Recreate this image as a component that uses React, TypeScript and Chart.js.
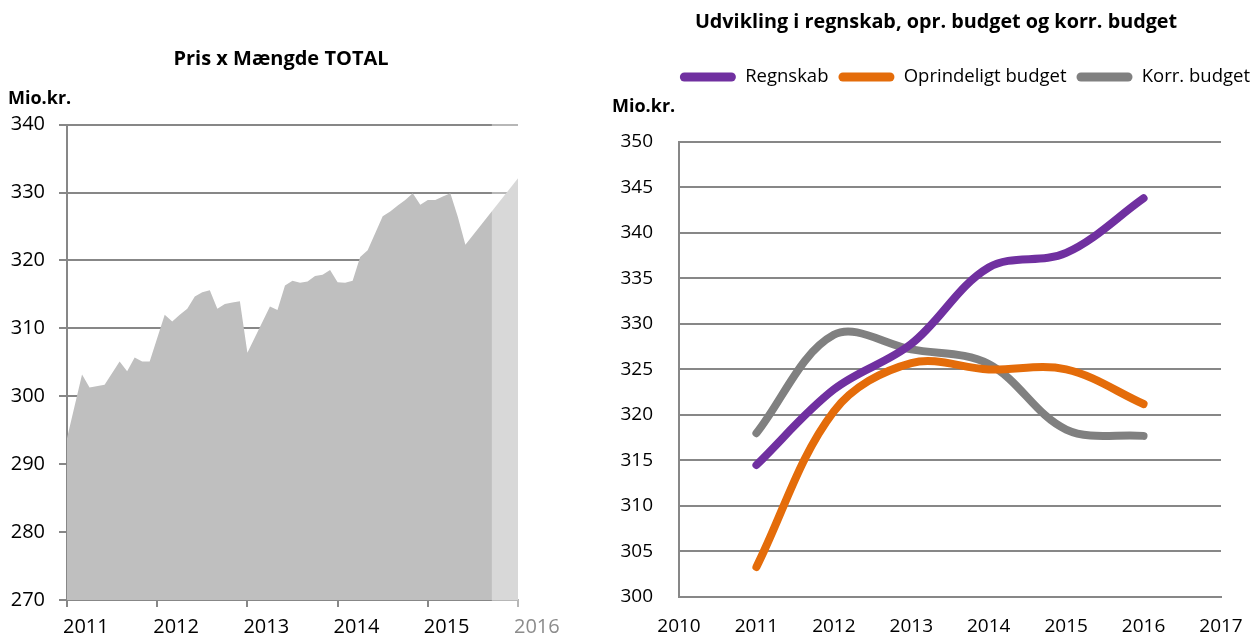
import React, { useEffect, useRef } from 'react';
import { Chart, registerables } from 'chart.js';

Chart.register(...registerables);

const FONT = "'Open Sans', sans-serif";

// ---------- Left chart: Pris x Mængde TOTAL ----------
const leftTitle = 'Pris x Mængde TOTAL';
const unitLabel = 'Mio.kr.';
const leftStartYear = 2011;
const leftYearTicks = [2011, 2012, 2013, 2014, 2015, 2016];
// month offsets from Jan 2011 (vertices of the area outline)
const leftMonths = [0, 2, 3, 5, 7, 8, 9, 10, 11, 13, 14, 15, 16, 17, 18, 19, 20, 21, 22, 23, 24, 27, 28, 29, 30, 31, 32, 33, 34, 35, 36, 37, 38, 39, 40, 42, 43, 44, 45, 46, 47, 48, 49, 50, 51, 52, 53, 60];
const leftValues = [293.8, 303.2, 301.3, 301.7, 305.1, 303.7, 305.7, 305.1, 305.1, 312.0, 311.0, 312.0, 312.9, 314.7, 315.3, 315.6, 312.9, 313.6, 313.8, 314.0, 306.4, 313.2, 312.7, 316.3, 317.0, 316.7, 316.9, 317.7, 317.9, 318.6, 316.8, 316.7, 317.0, 320.5, 321.5, 326.5, 327.2, 328.1, 328.9, 329.9, 328.2, 328.9, 328.9, 329.4, 329.9, 326.4, 322.3, 332.1];
const forecastStartYear = 2015.71;
const leftYMin = 270;
const leftYMax = 340;

// ---------- Right chart: Udvikling ----------
const rightTitle = 'Udvikling i regnskab, opr. budget og korr. budget';
const rightYears = [2011, 2012, 2013, 2014, 2015, 2016];
const regnskab = [314.5, 322.8, 327.8, 336.2, 337.8, 343.8];
const oprindeligtBudget = [303.3, 320.4, 325.7, 325.0, 325.0, 321.2];
const korrBudget = [318.0, 328.8, 327.2, 325.6, 318.4, 317.7];
const seriesNames = ['Regnskab', 'Oprindeligt budget', 'Korr. budget'];
const seriesColors = ['#7030a0', '#e46c0a', '#808080'];
const rightXMin = 2010;
const rightXMax = 2017;
const rightYMin = 300;
const rightYMax = 350;

const GRID = '#878787';

function LeftChart() {
  const ref = useRef<HTMLCanvasElement | null>(null);
  useEffect(() => {
    if (!ref.current) return;
    const points = leftMonths.map((m, i) => ({ x: leftStartYear + m / 12, y: leftValues[i] }));
    const shade = {
      id: 'forecastShade',
      afterDraw(chart: any) {
        const { ctx, chartArea, scales } = chart;
        const x0 = scales.x.getPixelForValue(forecastStartYear);
        ctx.save();
        ctx.fillStyle = 'rgba(255,255,255,0.4)';
        ctx.fillRect(x0, chartArea.top - 2, chartArea.right + 2 - x0, chartArea.bottom - chartArea.top + 12);
        ctx.restore();
      },
    };
    const chart = new Chart(ref.current, {
      type: 'line',
      data: {
        datasets: [
          {
            label: leftTitle,
            data: points,
            fill: 'start',
            backgroundColor: '#bfbfbf',
            borderWidth: 0,
            pointRadius: 0,
            tension: 0,
          },
        ],
      },
      options: {
        responsive: false,
        animation: false,
        layout: { padding: { left: 8, right: 12, top: 0, bottom: 0 } },
        plugins: {
          legend: { display: false },
          tooltip: { enabled: false },
          title: {
            display: true,
            text: leftTitle,
            color: '#000',
            font: { family: FONT, size: 20, weight: 'bold' },
            padding: { top: 47, bottom: 0 },
          },
          subtitle: {
            display: true,
            text: unitLabel,
            align: 'start',
            color: '#000',
            font: { family: FONT, size: 18, weight: 'bold' },
            padding: { top: 17, bottom: 15 },
          },
        },
        scales: {
          x: {
            type: 'linear',
            min: leftYearTicks[0],
            max: leftYearTicks[leftYearTicks.length - 1],
            afterBuildTicks: (axis: any) => {
              axis.ticks = leftYearTicks.map((v) => ({ value: v }));
            },
            afterFit: (axis: any) => {
              axis.height = 39;
              axis.paddingRight = 48;
            },
            ticks: {
              align: 'start',
              labelOffset: -4,
              padding: 8,
              color: (c: any) => (c.tick && c.tick.value === 2016 ? '#8c8c8c' : '#000'),
              font: { family: FONT, size: 20 },
              callback: (v: any) => String(v),
            },
            grid: { drawOnChartArea: false, drawTicks: true, tickLength: 7, color: GRID, lineWidth: 2 },
            border: { display: true, color: GRID, width: 2 },
          },
          y: {
            min: leftYMin,
            max: leftYMax,
            z: 1,
            afterFit: (axis: any) => {
              axis.width = 59;
            },
            ticks: {
              stepSize: 10,
              color: '#000',
              padding: 14,
              font: { family: FONT, size: 20 },
            },
            grid: { color: GRID, lineWidth: 2, tickLength: 8 },
            border: { display: true, color: GRID, width: 2 },
          },
        },
      },
      plugins: [shade],
    });
    return () => chart.destroy();
  }, []);
  return <canvas ref={ref} width={566} height={639} style={{ display: 'block' }} />;
}

function RightChart() {
  const ref = useRef<HTMLCanvasElement | null>(null);
  useEffect(() => {
    if (!ref.current) return;
    const series = [regnskab, oprindeligtBudget, korrBudget];
    const chart = new Chart(ref.current, {
      type: 'line',
      data: {
        datasets: series.map((vals, i) => ({
          label: seriesNames[i],
          data: rightYears.map((y, j) => ({ x: y, y: vals[j] })),
          borderColor: seriesColors[i],
          backgroundColor: seriesColors[i],
          borderWidth: 8,
          borderCapStyle: 'round' as const,
          borderJoinStyle: 'round' as const,
          pointRadius: 0,
          tension: 0.35,
          fill: false,
        })),
      },
      options: {
        responsive: false,
        animation: false,
        layout: { padding: { left: 12, right: -9, top: 0, bottom: 0 } },
        plugins: {
          tooltip: { enabled: false },
          title: {
            display: true,
            text: rightTitle,
            color: '#000',
            font: { family: FONT, size: 19.8, weight: 'bold' },
            padding: { top: 10, bottom: 24 },
          },
          legend: {
            display: true,
            position: 'top',
            align: 'end',
            labels: {
              boxWidth: 56,
              boxHeight: 9,
              useBorderRadius: true,
              borderRadius: 4.5,
              padding: 10,
              color: '#000',
              font: { family: FONT, size: 18.5 },
              generateLabels: (ch: any) =>
                ch.data.datasets.map((ds: any, i: number) => ({
                  text: ds.label,
                  fillStyle: ds.borderColor,
                  strokeStyle: ds.borderColor,
                  lineWidth: 0,
                  hidden: false,
                  datasetIndex: i,
                  borderRadius: 4.5,
                  fontColor: '#000',
                })),
            },
          },
          subtitle: {
            display: true,
            text: unitLabel,
            align: 'start',
            weight: 500,
            color: '#000',
            font: { family: FONT, size: 18, weight: 'bold' },
            padding: { top: 0, bottom: 24 },
          } as any,
        },
        scales: {
          x: {
            type: 'linear',
            min: rightXMin,
            max: rightXMax,
            afterFit: (axis: any) => {
              axis.paddingRight = 30;
              axis.height = 42;
            },
            ticks: {
              stepSize: 1,
              padding: 18,
              color: '#000',
              font: { family: FONT, size: 19 },
              callback: (v: any) => String(v),
            },
            grid: { drawOnChartArea: false, drawTicks: false, color: GRID, lineWidth: 2 },
            border: { display: true, color: GRID, width: 2 },
          },
          y: {
            min: rightYMin,
            max: rightYMax,
            afterFit: (axis: any) => {
              axis.width = 67;
            },
            ticks: {
              stepSize: 5,
              padding: 26,
              color: '#000',
              font: { family: FONT, size: 19 },
            },
            grid: { color: GRID, lineWidth: 2, drawTicks: false },
            border: { display: true, color: GRID, width: 2 },
          },
        },
      },
    });
    return () => chart.destroy();
  }, []);
  return <canvas ref={ref} width={651} height={639} style={{ display: 'block' }} />;
}

export default function App() {
  return (
    <div
      style={{
        position: 'fixed',
        left: 0,
        top: 0,
        width: 1251,
        height: 634,
        overflow: 'hidden',
        background: '#fff',
      }}
    >
      <div style={{ position: 'absolute', left: 0, top: 0 }}>
        <LeftChart />
      </div>
      <div style={{ position: 'absolute', left: 600, top: 0 }}>
        <RightChart />
      </div>
    </div>
  );
}
